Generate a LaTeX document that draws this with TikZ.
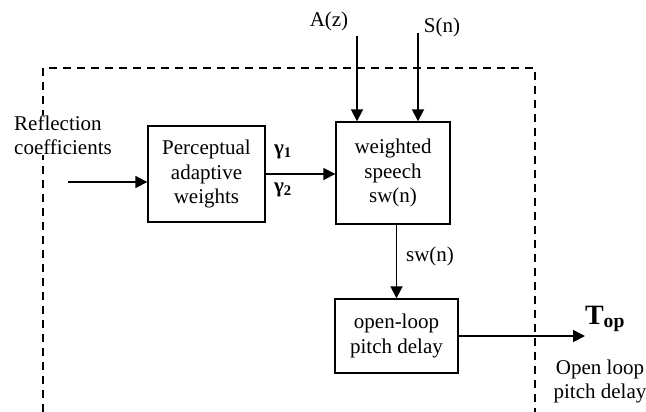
\documentclass[tikz,border=0pt]{standalone}
\usepackage{fontspec}
\setmainfont{Liberation Serif}
\usetikzlibrary{arrows.meta, positioning}

\begin{document}
\begin{tikzpicture}[
    x=1pt, y=-1pt,
    block/.style={rectangle, draw, line width=1.4pt, inner sep=0pt, align=center, font=\fontsize{21}{24.5}\selectfont},
    tag/.style={inner sep=0pt, align=center, font=\fontsize{21}{24}\selectfont},
    arrow/.style={-{Triangle[length=12pt,width=12pt]}, line width=1.8pt}
]
\useasboundingbox (0,0) rectangle (646,412);

% Dashed boundary
\draw[line width=1.3pt, dash pattern=on 8pt off 6pt] (43,412) -- (43,68) -- (535,68) -- (535,412);

% Blocks
\node[block, minimum width=117pt, minimum height=96pt] (percept) at (206.5,174) {Perceptual\\adaptive\\weights};
\node[block, minimum width=114pt, minimum height=102pt] (weighted) at (393,173) {weighted\\speech\\sw(n)};
\node[block, minimum width=123pt, minimum height=74pt] (pitch) at (396.5,336) {open-loop\\pitch delay};

% Inputs
\node[tag, anchor=west, align=left, fill=white, inner sep=1pt] (refl) at (13,135) {Reflection\\coefficients};
\coordinate (reflin) at (68,182);
\node[tag] (az) at (329,21) {A(z)};
\node[tag] (sn) at (442,27) {S(n)};
\coordinate (aztop) at (357,36);
\coordinate (sntop) at (418,33);

% Output
\coordinate (topout) at (585,336);
\node[inner sep=0pt, font=\fontsize{28}{30}\selectfont\bfseries] (top) at (605,319) {T\textsubscript{op}};
\node[tag] (toplbl) at (600,381) {Open loop\\pitch delay};

% Connectors
\draw[arrow] (reflin) -- (reflin -| percept.west);
\draw[arrow] (percept.east) -- (percept.east -| weighted.west);
\draw[arrow] (aztop) -- (aztop |- weighted.north);
\draw[arrow] (sntop) -- (sntop |- weighted.north);
\draw[arrow] (pitch.north |- weighted.south) -- (pitch.north);
\draw[arrow] (pitch.east) -- (pitch.east -| topout);

% Labels
\node[tag, font=\fontsize{21}{24}\selectfont\bfseries] (g1) at (283,152) {γ\textsubscript{1}};
\node[tag, font=\fontsize{21}{24}\selectfont\bfseries] (g2) at (283,190) {γ\textsubscript{2}};
\node[tag] (swn) at (430,256) {sw(n)};
\end{tikzpicture}
\end{document}
